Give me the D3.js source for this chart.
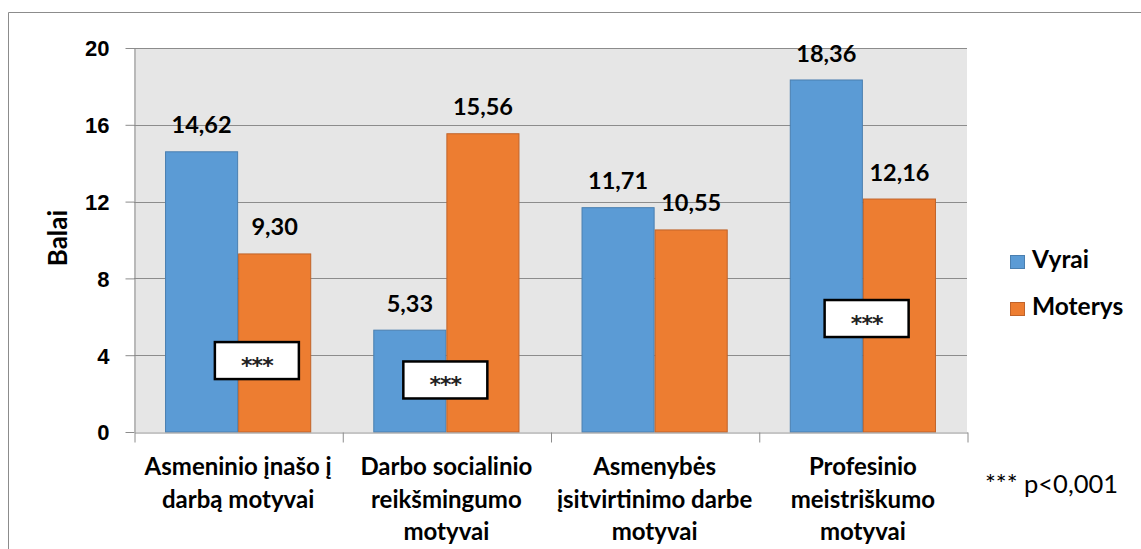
<!DOCTYPE html>
<html>
<head>
<meta charset="utf-8">
<script src="https://cdn.jsdelivr.net/npm/d3@7"></script>
<style>
  body { margin: 0; background: #fff; }
  svg { display: block; font-family: Lato, "Open Sans", sans-serif; }
  .axis text { font-weight: bold; font-size: 22px; fill: #000; }
  .axis path, .axis line { stroke: #8c8c8c; }
</style>
</head>
<body>
<div id="chart"></div>
<script>
"use strict";

// data
var categories = [
    ['Asmeninio įnašo į', 'darbą motyvai'],
    ['Darbo socialinio', 'reikšmingumo', 'motyvai'],
    ['Asmenybės', 'įsitvirtinimo darbe', 'motyvai'],
    ['Profesinio', 'meistriškumo', 'motyvai']
];
var seriesNames = ['Vyrai', 'Moterys'];
var vyrai = [14.62, 5.33, 11.71, 18.36];
var moterys = [9.30, 15.56, 10.55, 12.16];
var yTicks = [0, 4, 8, 12, 16, 20];
var colors = ['#5b9bd5', '#ed7d31'];
var borders = ['#4a7fb0', '#c0632a'];

// significance boxes: category index, value level and place across the band
var sigCategory = [0, 1, 3];
var sigLevel = [3.72, 2.71, 5.91];
var sigAcross = [0.59, 0.495, 0.518];

var createGraph = function createGraph() {
    var W = 1141, H = 549;
    var margin = {top: 48, right: 174, bottom: 117, left: 134};
    var width = W - margin.left - margin.right;
    var height = H - margin.top - margin.bottom;

    var svg = d3.select('#chart').append('svg')
        .attr('width', W)
        .attr('height', H);

    // outer frame (top and left edges visible)
    svg.append('path')
        .attr('d', 'M8.5,' + H + 'V12.5H' + W)
        .attr('fill', 'none')
        .attr('stroke', '#8c8c8c')
        .attr('stroke-width', 1);

    var g = svg.append('g')
        .attr('transform', 'translate(' + margin.left + ',' + margin.top + ')');

    g.append('rect')
        .attr('width', width)
        .attr('height', height)
        .attr('fill', '#e6e6e6');

    var keys = categories.map(function (c, i) { return i; });

    var x0 = d3.scaleBand()
        .domain(keys)
        .range([0, width]);

    var bw = x0.bandwidth();
    var x1 = d3.scaleBand()
        .domain(seriesNames)
        .range([bw * 0.149, bw * 0.851]);

    var y = d3.scaleLinear()
        .domain([0, 20])
        .range([height, 0]);

    // gridlines
    g.append('g')
        .selectAll('line')
        .data(yTicks.filter(function (t) { return t > 0; }))
        .enter().append('line')
            .attr('x1', 0)
            .attr('x2', width)
            .attr('y1', function (d) { return Math.round(y(d)) + 0.5; })
            .attr('y2', function (d) { return Math.round(y(d)) + 0.5; })
            .attr('stroke', '#8c8c8c');

    var yAxis = d3.axisLeft(y)
        .tickValues(yTicks)
        .tickSize(9)
        .tickPadding(16)
        .tickSizeOuter(0);

    g.append('g')
        .attr('class', 'axis axis--y')
        .attr('transform', 'translate(0.5,0)')
        .call(yAxis)
        .selectAll('text').attr('dy', '0.36em');

    var data = keys.map(function (i) {
        return [vyrai[i], moterys[i]];
    });

    var groups = g.selectAll('.group')
        .data(data)
        .enter().append('g')
            .attr('class', 'group')
            .attr('transform', function (d, i) {
                return 'translate(' + x0(i) + ',0)';
            });

    groups.selectAll('rect')
        .data(function (d) { return d; })
        .enter().append('rect')
            .attr('x', function (d, j) { return x1(seriesNames[j]) + 0.5; })
            .attr('y', function (d) { return y(d) + 0.5; })
            .attr('width', x1.bandwidth() - 1)
            .attr('height', function (d) { return height - y(d) - 0.5; })
            .attr('fill', function (d, j) { return colors[j]; })
            .attr('stroke', function (d, j) { return borders[j]; })
            .attr('stroke-width', 1);

    groups.selectAll('.value')
        .data(function (d) { return d; })
        .enter().append('text')
            .attr('class', 'value')
            .attr('x', function (d, j) { return x1(seriesNames[j]) + x1.bandwidth() / 2; })
            .attr('y', function (d) { return y(d) - 18; })
            .attr('text-anchor', 'middle')
            .attr('font-size', '23.5px')
            .attr('font-weight', 'bold')
            .text(function (d) { return d.toFixed(2).replace('.', ','); });

    // bottom axis with ticks at category boundaries
    var xAxis = d3.axisBottom(d3.scaleLinear().domain([0, keys.length]).range([0, width]))
        .tickValues(d3.range(keys.length + 1))
        .tickSize(10)
        .tickSizeOuter(0)
        .tickFormat('');

    g.append('g')
        .attr('class', 'axis axis--x')
        .attr('transform', 'translate(0.5,' + (height + 0.5) + ')')
        .call(xAxis);

    var catLabels = g.append('g')
        .selectAll('text')
        .data(categories)
        .enter().append('text')
            .attr('x', function (d, i) { return x0(i) + bw / 2; })
            .attr('y', height + 43)
            .attr('text-anchor', 'middle')
            .attr('font-size', '24px')
            .attr('font-weight', 'bold');

    catLabels.selectAll('tspan')
        .data(function (d) { return d; })
        .enter().append('tspan')
            .attr('x', function () { return this.parentNode.getAttribute('x'); })
            .attr('dy', function (d, k) { return k === 0 ? 0 : 32.5; })
            .text(function (d) { return d; });

    // significance boxes
    var sig = g.selectAll('.sig')
        .data(sigCategory)
        .enter().append('g')
            .attr('class', 'sig')
            .attr('transform', function (c, k) {
                return 'translate(' + (x0(c) + bw * sigAcross[k]) + ',' + y(sigLevel[k]) + ')';
            });

    sig.append('rect')
        .attr('x', -42)
        .attr('y', -18.5)
        .attr('width', 84)
        .attr('height', 37)
        .attr('fill', '#fff')
        .attr('stroke', '#000')
        .attr('stroke-width', 2.5);

    sig.append('text')
        .attr('text-anchor', 'middle')
        .attr('y', 12)
        .attr('font-family', '"DejaVu Sans", sans-serif')
        .attr('font-size', '22px')
        .attr('font-weight', 'bold')
        .attr('letter-spacing', '-1px')
        .attr('fill', '#222')
        .text('***');

    g.append('text')
        .attr('transform', 'translate(-67,' + y(10.1) + ') rotate(-90)')
        .attr('text-anchor', 'middle')
        .attr('font-size', '26px')
        .attr('font-weight', 'bold')
        .text('Balai');

    // legend
    var legend = svg.append('g')
        .selectAll('g')
        .data(seriesNames)
        .enter().append('g')
            .attr('transform', function (d, j) {
                return 'translate(1010,' + (255 + j * 47) + ')';
            });

    legend.append('rect')
        .attr('x', 0.5)
        .attr('y', 0.5)
        .attr('width', 14)
        .attr('height', 13)
        .attr('fill', function (d, j) { return colors[j]; })
        .attr('stroke', function (d, j) { return borders[j]; });

    legend.append('text')
        .attr('x', 22)
        .attr('y', 13)
        .attr('font-size', '24.5px')
        .attr('font-weight', 'bold')
        .text(function (d) { return d; });

    svg.append('text')
        .attr('x', 985)
        .attr('y', 493)
        .attr('font-size', '25.5px')
        .text('*** p<0,001');
};

createGraph();
</script>
</body>
</html>
